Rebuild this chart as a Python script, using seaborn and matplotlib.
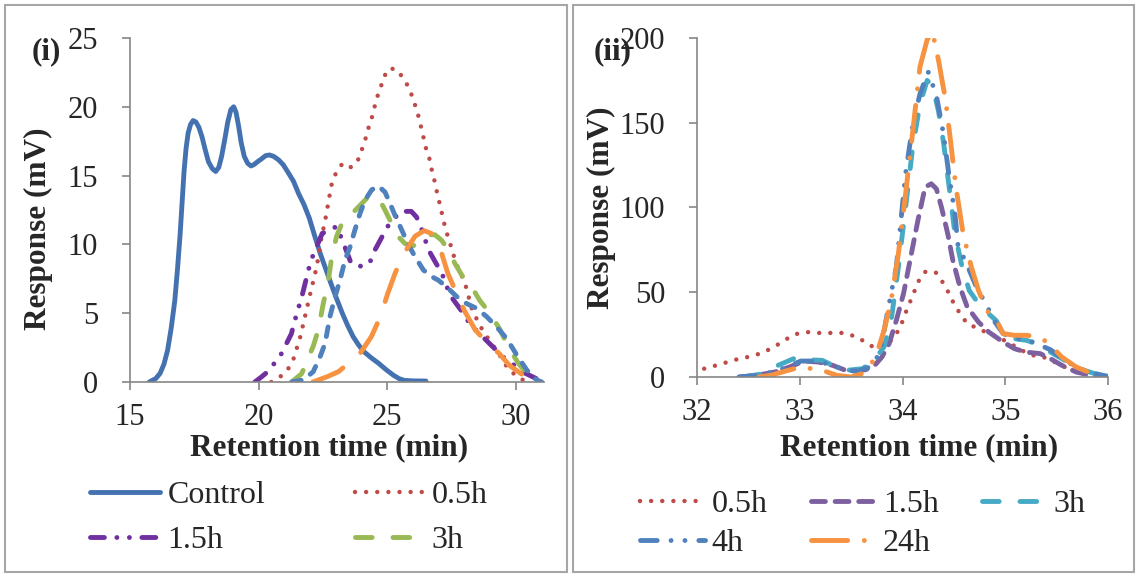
import matplotlib
matplotlib.use("Agg")
import matplotlib.pyplot as plt
from matplotlib.patches import Rectangle
import seaborn as sns

# ---------------- data: panel (i) ----------------
ctrl_t = [15.75, 16.0, 16.17, 16.32, 16.46, 16.6, 16.74, 16.85, 16.95, 17.03, 17.1, 17.18, 17.26, 17.35,
          17.45, 17.56, 17.68, 17.8, 17.92, 18.05, 18.2, 18.33, 18.45, 18.56, 18.68, 18.8, 18.92, 19.03,
          19.12, 19.22, 19.32, 19.44, 19.57, 19.7, 19.82, 19.95, 20.1, 20.27, 20.42, 20.58, 20.77, 20.95,
          21.12, 21.35, 21.55, 21.76, 21.97, 22.18, 22.4, 22.61, 22.82, 23.04, 23.25, 23.46, 23.67, 23.88,
          24.09, 24.38, 24.66, 24.95, 25.23, 25.45, 25.65, 26.0, 26.5]
ctrl_r = [0.0, 0.25, 0.63, 1.3, 2.3, 3.9, 5.9, 8.3, 10.8, 13.2, 15.3, 17.0, 18.1, 18.7,
          19.0, 18.9, 18.5, 17.8, 16.9, 16.0, 15.5, 15.3, 15.6, 16.4, 17.6, 18.9, 19.8, 20.0,
          19.6, 18.6, 17.4, 16.4, 15.9, 15.7, 15.8, 16.0, 16.2, 16.45, 16.5, 16.4, 16.15, 15.8,
          15.3, 14.6, 13.7, 12.9, 11.9, 10.6, 9.3, 8.2, 7.1, 6.0, 5.0, 4.1, 3.3, 2.7,
          2.2, 1.75, 1.36, 0.9, 0.5, 0.25, 0.12, 0.08, 0.07]

h05_t = [20.49, 20.84, 21.12, 21.34, 21.48, 21.62, 21.83, 22.04, 22.26, 22.4, 22.61, 22.75, 22.85, 23.03,
         23.27, 23.6, 23.88, 24.05, 24.19, 24.3, 24.45, 24.56, 24.73, 24.84, 25.08, 25.37, 25.65, 25.86,
         26.03, 26.17, 26.29, 26.39, 26.5, 26.64, 26.74, 26.85, 26.95, 27.07, 27.16, 27.28, 27.42, 27.56,
         27.7, 27.91, 28.06, 28.3, 28.69, 29.05, 29.4, 29.68, 30.04, 30.32]
h05_r = [0.0, 0.39, 0.87, 1.6, 2.45, 3.3, 5.0, 6.7, 8.4, 10.1, 12.0, 13.5, 14.5, 15.3,
         15.9, 15.6, 16.2, 17.1, 17.9, 18.7, 19.5, 20.5, 21.3, 22.1, 22.8, 22.7, 22.0, 21.3,
         20.4, 19.6, 18.7, 17.9, 17.0, 16.2, 15.3, 14.5, 13.6, 12.7, 11.9, 11.0, 10.2, 9.3,
         8.5, 7.65, 6.9, 5.2, 3.8, 2.8, 1.84, 1.0, 0.39, 0.1]

h15_t = [19.85, 20.13, 20.35, 20.84, 21.27, 21.41, 21.69, 21.97, 22.11, 22.47, 23.03, 23.25, 23.6, 24.0,
         24.3, 24.52, 25.01, 25.51, 25.93, 26.13, 26.3, 26.6, 26.9, 27.1, 27.44, 27.95, 28.21, 28.86,
         29.51, 29.77, 30.29, 30.8, 31.06]
h15_r = [0.0, 0.4, 0.75, 1.9, 3.5, 4.5, 6.3, 8.4, 9.2, 10.8, 11.3, 10.3, 8.6, 8.4,
         8.6, 9.6, 11.3, 12.4, 12.4, 12.0, 11.3, 9.6, 8.6, 8.0, 6.3, 5.0, 4.2, 3.0,
         1.8, 1.45, 0.7, 0.24, 0.0]

h3_t = [21.28, 21.67, 22.12, 22.32, 22.51, 22.71, 22.84, 23.03, 23.23, 23.55, 23.87, 24.2, 24.52, 24.71,
        24.91, 25.17, 25.36, 25.69, 26.01, 26.33, 26.59, 26.85, 27.11, 27.37, 27.63, 27.95, 28.28, 28.6,
        28.99, 29.38, 29.7, 30.09, 30.48, 30.8]
h3_r = [0.0, 0.6, 2.6, 3.8, 5.7, 7.4, 9.1, 10.6, 11.5, 12.1, 12.7, 13.35, 13.5, 13.2,
        12.5, 11.5, 10.7, 10.05, 9.9, 10.3, 10.7, 10.7, 10.3, 9.6, 8.6, 7.6, 6.9, 5.9,
        5.0, 3.8, 2.57, 1.36, 0.5, 0.1]

h4_t = [21.28, 21.74, 22.12, 22.38, 22.58, 22.77, 22.97, 23.16, 23.36, 23.55, 23.74, 23.94, 24.13, 24.39,
        24.65, 24.91, 25.1, 25.3, 25.56, 25.82, 26.08, 26.4, 26.72, 26.98, 27.31, 27.7, 28.08, 28.47,
        28.86, 29.25, 29.64, 30.03, 30.42, 30.8, 31.0]
h4_r = [0.0, 0.15, 0.75, 1.8, 2.8, 4.75, 6.2, 7.4, 8.9, 9.8, 11.05, 12.26, 13.2, 13.96,
        14.25, 13.8, 13.0, 12.1, 11.05, 9.96, 9.1, 8.14, 7.66, 7.4, 6.9, 6.2, 5.7, 5.35,
        4.75, 4.0, 3.15, 1.96, 0.87, 0.15, 0.0]

h24_t = [22.11, 22.68, 23.1, 23.39, 23.95, 24.38, 24.73, 25.01, 25.3, 25.65, 26.08, 26.43, 26.71, 27.07,
         27.35, 27.7, 27.99, 28.41, 28.9, 29.33, 29.75, 30.18, 30.53, 30.74]
h24_r = [0.0, 0.4, 0.75, 1.2, 2.1, 3.3, 4.75, 6.4, 7.9, 9.35, 10.6, 11.0, 10.8, 9.6,
         7.9, 6.4, 5.2, 3.8, 2.8, 2.1, 1.2, 0.63, 0.15, 0.0]

# ---------------- data: panel (ii) ----------------
r05_t = [32.07, 32.19, 32.3, 32.41, 32.53, 32.64, 32.75, 32.85, 32.95, 33.07, 33.18, 33.3, 33.42, 33.54,
         33.64, 33.74, 33.84, 33.92, 33.98, 34.02, 34.11, 34.15, 34.22, 34.32, 34.39, 34.45, 34.5, 34.56,
         34.63, 34.74, 34.84, 34.93, 35.05, 35.16, 35.27, 35.37, 35.48, 35.58, 35.69, 35.83, 35.97]
r05_r = [4.9, 6.9, 8.85, 10.8, 12.2, 14.4, 17.7, 21.6, 25.2, 26.5, 26.0, 26.0, 26.0, 24.0,
         20.6, 16.7, 18.5, 23.6, 29.5, 36.4, 49.6, 56.0, 62.0, 62.0, 56.0, 49.6, 43.3, 37.4,
         31.5, 28.5, 25.6, 23.6, 19.7, 15.7, 12.8, 11.8, 8.85, 5.9, 3.3, 1.6, 0.4]

r15_t = [32.41, 32.58, 32.76, 32.9, 33.04, 33.18, 33.32, 33.43, 33.54, 33.64, 33.73, 33.8, 33.87, 33.94,
         34.01, 34.08, 34.15, 34.22, 34.28, 34.33, 34.38, 34.44, 34.49, 34.56, 34.63, 34.74, 34.84, 34.98,
         35.09, 35.2, 35.34, 35.44, 35.55, 35.69, 35.83, 35.99]
r15_r = [0.0, 1.0, 3.0, 5.9, 9.4, 8.85, 6.9, 4.3, 3.5, 4.3, 6.9, 11.8, 19.7, 33.4,
         49.2, 70.8, 92.4, 112.0, 114.0, 111.0, 100.0, 84.6, 68.8, 53.0, 41.3, 32.4, 26.5, 20.6,
         16.7, 14.7, 13.8, 10.8, 6.9, 2.95, 1.0, 0.0]

r3_t = [32.45, 32.65, 32.79, 32.94, 33.01, 33.08, 33.22, 33.32, 33.45, 33.61, 33.71, 33.82, 33.89, 33.96,
        34.03, 34.1, 34.17, 34.24, 34.29, 34.35, 34.4, 34.45, 34.51, 34.58, 34.65, 34.74, 34.82, 34.91,
        34.98, 35.09, 35.21, 35.34, 35.44, 35.58, 35.72, 35.87, 36.0]
r3_r = [0.0, 2.0, 6.9, 10.8, 11.8, 10.2, 9.8, 6.9, 3.9, 4.9, 8.85, 17.7, 33.4, 64.9,
        100.0, 136.0, 161.0, 175.0, 172.0, 157.0, 138.0, 114.0, 84.6, 64.9, 51.0, 43.3, 38.3, 33.4,
        25.6, 22.6, 21.6, 18.7, 14.7, 9.8, 4.9, 2.0, 0.4]

r4_t = [32.41, 32.62, 32.83, 33.01, 33.15, 33.29, 33.45, 33.57, 33.68, 33.78, 33.87, 33.94, 34.03, 34.1,
        34.17, 34.25, 34.33, 34.4, 34.45, 34.51, 34.54, 34.63, 34.72, 34.81, 34.9, 34.98, 35.12, 35.23,
        35.34, 35.44, 35.58, 35.72, 35.87, 36.0]
r4_r = [0.0, 1.0, 4.9, 9.4, 9.4, 7.5, 3.9, 3.5, 5.9, 13.8, 43.3, 64.9, 120.0, 149.0,
        167.0, 180.0, 166.0, 143.0, 120.0, 96.4, 77.7, 65.9, 53.0, 43.3, 32.4, 25.6, 22.6, 21.6,
        18.7, 16.1, 9.8, 4.9, 2.0, 0.4]

r24_t = [32.6, 32.72, 32.86, 33.01, 33.22, 33.36, 33.5, 33.61, 33.68, 33.75, 33.82, 33.89, 33.96, 34.03,
         34.1, 34.17, 34.24, 34.29, 34.35, 34.42, 34.47, 34.52, 34.59, 34.67, 34.74, 34.82, 34.93, 34.98,
         35.09, 35.21, 35.32, 35.41, 35.55, 35.69, 35.83, 35.94]
r24_r = [0.0, 1.0, 3.5, 5.9, 3.9, 1.0, 0.0, 2.0, 5.9, 13.8, 27.5, 45.2, 72.8, 108.0,
         145.0, 183.0, 199.0, 204.0, 187.0, 163.0, 138.0, 112.0, 84.6, 64.9, 51.0, 39.3, 31.5, 25.6,
         24.6, 24.6, 23.6, 20.6, 11.8, 5.9, 2.4, 1.0]

left_yticks = [0, 5, 10, 15, 20, 25]
left_xticks = [15, 20, 25, 30]
right_yticks = [0, 50, 100, 150, 200]
right_xticks = [32, 33, 34, 35, 36]

# ---------------- style ----------------
sns.set_style("white")
plt.rcParams["font.family"] = ["Liberation Serif", "DejaVu Serif"]
plt.rcParams["lines.scale_dashes"] = False

C_CTRL = "#4472B0"
C_RED = "#BE4B48"
C_PURP_D = "#7030A0"
C_PURP = "#7D60A0"
C_GREEN = "#98B954"
C_BLUE = "#4F81BD"
C_CYAN = "#46AAC5"
C_ORANGE = "#F69240"
AX_GREY = "#868686"

TICK_FS = 22
LABEL_FS = 22.5
LEG_FS = 23

fig = plt.figure(figsize=(11.36, 5.74), dpi=100)
W, H = 1136.0, 574.0

axL = fig.add_axes([130 / W, 192 / H, 414.3 / W, 344 / H])
axR = fig.add_axes([697 / W, 197 / H, 411 / W, 339 / H])

LW = 3.5


def draw(ax, t, r, color, dashes, label, lw=LW):
    sns.lineplot(x=t, y=r, ax=ax, color=color, linewidth=lw, label=label,
                 sort=False, estimator=None)
    line = ax.lines[-1]
    if dashes is not None:
        line.set_dashes(dashes)
    line.set_dash_capstyle("round")
    line.set_solid_capstyle("round")
    line.set_dash_joinstyle("round")
    line.set_solid_joinstyle("round")
    return line


DOT = (0.01, 8)
# panel (i)
lc = draw(axL, ctrl_t, ctrl_r, C_CTRL, None, "Control")
l05 = draw(axL, h05_t, h05_r, C_RED, DOT, "0.5h", lw=3.2)
l15 = draw(axL, h15_t, h15_r, C_PURP_D, (10, 9, 0.01, 9, 0.01, 9), "1.5h")
l3 = draw(axL, h3_t, h3_r, C_GREEN, (12, 15), "3h")
l4 = draw(axL, h4_t, h4_r, C_BLUE, (7, 8), "4h")
l24 = draw(axL, h24_t, h24_r, C_ORANGE, (24, 17), "24h")

# panel (ii)
m05 = draw(axR, r05_t, r05_r, C_RED, DOT, "0.5h", lw=3.2)
m15 = draw(axR, r15_t, r15_r, C_PURP, (10, 7), "1.5h")
m3 = draw(axR, r3_t, r3_r, C_CYAN, (12, 15), "3h")
m4 = draw(axR, r4_t, r4_r, C_BLUE, (12, 10, 0.01, 10, 0.01, 10), "4h")
m24 = draw(axR, r24_t, r24_r, C_ORANGE, (26, 12, 0.01, 12), "24h")

for ax in (axL, axR):
    for s in ("top", "right"):
        ax.spines[s].set_visible(False)
    for s in ("left", "bottom"):
        ax.spines[s].set_color(AX_GREY)
        ax.spines[s].set_linewidth(1.2)
    ax.tick_params(axis="both", which="major", direction="out", length=6, width=1.2,
                   color=AX_GREY, labelsize=TICK_FS, bottom=True, left=True)
    ax.tick_params(axis="y", pad=17)
    ax.tick_params(axis="x", pad=9)
    ax.set_facecolor("white")

axL.set_xlim(15, 31.1)
axL.set_ylim(0, 25)
axL.set_xticks(left_xticks)
axL.set_yticks(left_yticks)
axR.set_xlim(32, 36)
axR.set_ylim(0, 200)
axR.set_xticks(right_xticks)
axR.set_yticks(right_yticks)

for ax, xc, yc, xl, yl in ((axL, 0.48, -0.192, -0.222, 0.445),
                           (axR, 0.54, -0.2094, -0.232, 0.4985)):
    ax.set_xlabel("Retention time (min)", fontsize=LABEL_FS, fontweight="bold")
    ax.set_ylabel("Response (mV)", fontsize=LABEL_FS, fontweight="bold")
    ax.xaxis.set_label_coords(xc, yc)
    ax.yaxis.set_label_coords(xl, yl)
    ax.xaxis.label.set_verticalalignment("center")
    ax.yaxis.label.set_verticalalignment("center")

# panel tags
fig.text(32 / W, 1 - 52 / H, "(i)", fontsize=LABEL_FS, fontweight="bold", ha="left", va="center")
fig.text(594 / W, 1 - 52 / H, "(ii)", fontsize=LABEL_FS, fontweight="bold", ha="left", va="center")

# legends
axL.legend([lc, l15, l05, l3], ["Control", "1.5h", "0.5h", "3h"], ncol=2,
           loc="upper left", bbox_to_anchor=(90 / W, 1 - 481 / H), bbox_transform=fig.transFigure,
           frameon=False, fontsize=LEG_FS, borderpad=0, borderaxespad=0,
           handlelength=2.2, handletextpad=0.22, columnspacing=2.8, labelspacing=0.48)
axR.legend([m05, m4, m15, m24, m3], ["0.5h", "4h", "1.5h", "24h", "3h"], ncol=3,
           loc="upper left", bbox_to_anchor=(640 / W, 1 - 490 / H), bbox_transform=fig.transFigure,
           frameon=False, fontsize=LEG_FS, borderpad=0, borderaxespad=0,
           handlelength=2.03, handletextpad=0.22, columnspacing=1.35, labelspacing=0.3)

# panel frames
for x0, x1 in ((5, 567), (573, 1134)):
    fig.patches.append(Rectangle((x0 / W, 1 - 572 / H), (x1 - x0) / W, 567 / H,
                                 transform=fig.transFigure, fill=False,
                                 edgecolor="#A6A6A6", linewidth=1.5))

fig.savefig("out.png", dpi=100, facecolor="white")
